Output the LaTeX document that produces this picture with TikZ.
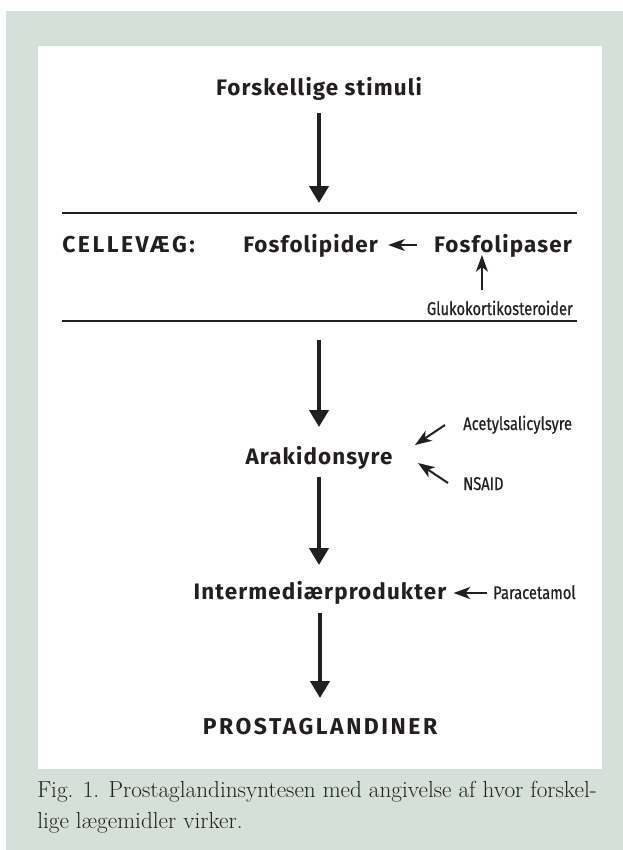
\documentclass[tikz,border=0pt]{standalone}
\usepackage{fontspec}
\usepackage{tikz}
\usetikzlibrary{positioning,arrows.meta,calc}
\definecolor{ramme}{RGB}{214,224,218}
\definecolor{tekst}{RGB}{35,31,32}
\newfontfamily\fedfont[LetterSpace=5]{Fira Sans}
\newfontfamily\versalfont[LetterSpace=11]{Fira Sans}
\newfontfamily\smalfont[FakeStretch=0.8, FakeBold=0.5]{Fira Sans}

\begin{document}
\begin{tikzpicture}[x=0.75pt, y=-0.75pt,
  trin/.style={inner sep=0pt, anchor=base, text=tekst,
    font=\fedfont\bfseries\fontsize{16.8}{18}\selectfont},
  versal/.style={trin, font=\versalfont\bfseries\fontsize{17.2}{18}\selectfont},
  etiket/.style={inner sep=0pt, anchor=base west, text=tekst,
    font=\smalfont\fontsize{13.8}{15}\selectfont},
  pil/.style={-{Triangle[length=12.75pt, width=14.25pt]}, line width=3.4pt,
    tekst},
  lillepil/.style={-{Stealth[length=12.5pt, width=9pt, inset=3.5pt]},
    line width=1.5pt, tekst},
  skille/.style={line width=1.1pt, tekst},
  figtekst/.style={inner sep=0pt, anchor=base west, text=tekst,
    font=\fontsize{17.4}{20}\selectfont},
]
  \useasboundingbox (0,0) rectangle (623,850);
  % Baggrund og ramme
  \fill[white] (0,0) rectangle (623,850);
  \fill[ramme] (6,11) rectangle (623,850);
  \fill[white] (38,46) rectangle (602,769);

  % Trin i syntesen
  \node[trin] (stim) at (319,95) {Forskellige stimuli};
  \node[versal, anchor=base west] (cellev) at (62,252) {CELLEVÆG:};
  \node[trin, anchor=base west] (fosd) at (243,252) {Fosfolipider};
  \node[trin, anchor=base east] (fosl) at (572,252) {Fosfolipaser};
  \node[trin] (arak) at (319,464) {Arakidonsyre};
  \node[trin] (inter) at (320,599) {Intermediærprodukter};
  \node[versal] (prost) at (320,734) {PROSTAGLANDINER};

  % Lægemidler
  \node[etiket, anchor=base east] (gluk) at (573,315) {Glukokortikosteroider};
  \node[etiket] (acet) at (463,430) {Acetylsalicylsyre};
  \node[etiket] (nsaid) at (463,490) {NSAID};
  \node[etiket] (para) at (493,599) {Paracetamol};

  % Cellevæg
  \coordinate (v1) at (62,213);
  \coordinate (h1) at (577,213);
  \coordinate (v2) at (62,321);
  \coordinate (h2) at (577,321);
  \draw[skille] (v1) -- (h1);
  \draw[skille] (v2) -- (h2);

  % Hovedpile
  \draw[pil] ($(stim.base)+(0,18)$) -- ($(stim.base |- v1)+(0,-10)$);
  \draw[pil] ($(arak.base |- v2)+(0,19)$) -- ($(arak.base)+(0,-37)$);
  \draw[pil] ($(arak.base)+(0,13)$) -- ($(arak.base |- inter.base)+(0,-34)$);
  \draw[pil] ($(inter.base)+(0,14)$) -- ($(prost.base)+(0,-36)$);

  % Virkning af lægemidler
  \draw[lillepil] ($(fosl.base west)+(-17,-7)$) -- ($(fosd.base east)+(10,-7)$);
  \draw[lillepil] ($(fosl.base west |- gluk.base)+(48,-25)$)
    -- ($(fosl.base west)+(48,3)$);
  \draw[lillepil] ($(acet.base west)+(-18,-5)$) -- ($(acet.base west)+(-48,15)$);
  \draw[lillepil] ($(nsaid.base west)+(-15,-7)$) -- ($(nsaid.base west)+(-45,-27)$);
  \draw[lillepil] ($(para.base west)+(-6,-6)$) -- ($(inter.base east)+(7,-6)$);

  % Figurtekst
  \node[figtekst] (fig1) at (37,797)
    {Fig. 1. Prostaglandinsyntesen med angivelse af hvor forskel-};
  \node[figtekst] (fig2) at (37,828) {lige lægemidler virker.};
\end{tikzpicture}
\end{document}
